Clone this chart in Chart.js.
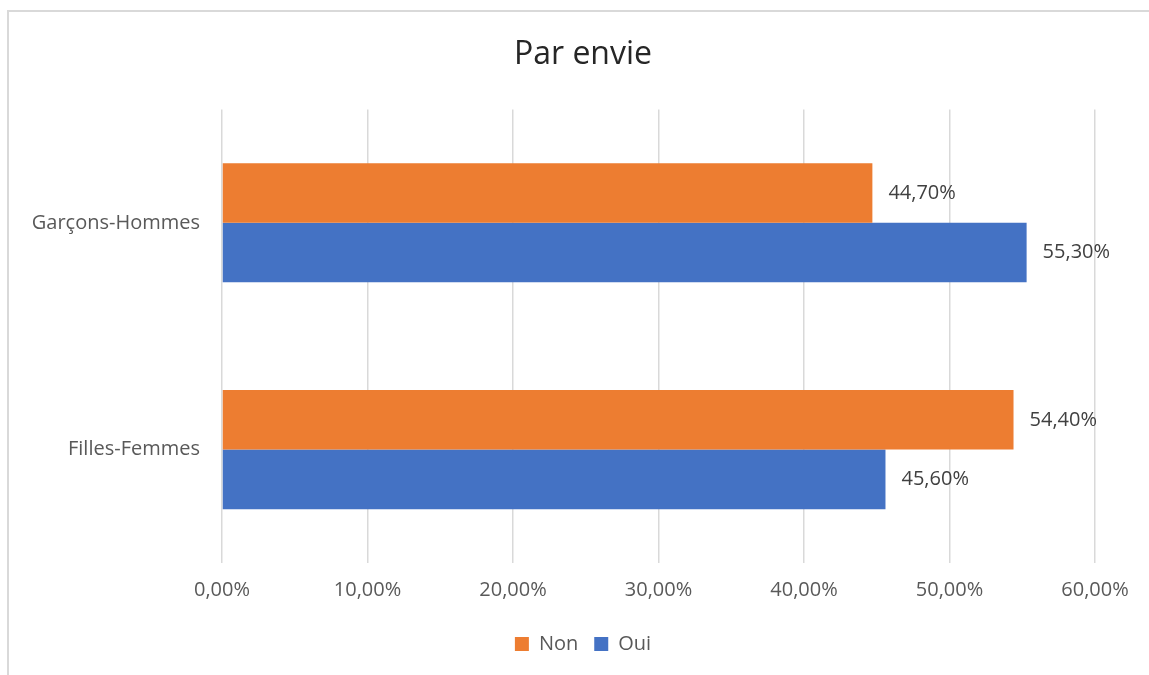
<!DOCTYPE html>
<html>
<head>
<meta charset="utf-8">
<script src="https://cdn.jsdelivr.net/npm/chart.js@4/dist/chart.umd.min.js"></script>
<style>
  html, body { margin: 0; padding: 0; background: #ffffff; }
  #wrap { position: relative; width: 1149px; height: 675px; overflow: hidden; }
  #frame { position: absolute; left: 7px; top: 10px; width: 1170px; height: 700px; border: 2px solid #d9d9d9; box-sizing: border-box; }
  #holder { position: absolute; left: 0; top: 0; width: 1149px; height: 675px; }
</style>
</head>
<body>
<div id="wrap">
  <div id="frame"></div>
  <div id="holder"><canvas id="c"></canvas></div>
</div>
<script>
const chartTitle = 'Par envie';
const categories = ['Garçons-Hommes', 'Filles-Femmes'];
const seriesNames = ['Non', 'Oui'];
const nonValues = [44.7, 54.4];
const ouiValues = [55.3, 45.6];
const tickValues = [0, 10, 20, 30, 40, 50, 60];

const FONT = "'Open Sans', 'Liberation Sans', sans-serif";
const fmt = v => Number(v).toFixed(2).replace('.', ',') + '%';

const valueLabels = {
  id: 'valueLabels',
  afterDatasetsDraw(chart) {
    const ctx = chart.ctx;
    ctx.save();
    ctx.font = '20px ' + FONT;
    ctx.fillStyle = '#404040';
    ctx.textAlign = 'left';
    ctx.textBaseline = 'middle';
    chart.data.datasets.forEach((ds, i) => {
      const meta = chart.getDatasetMeta(i);
      meta.data.forEach((bar, j) => {
        ctx.fillText(fmt(ds.data[j]), bar.x + 16, bar.y);
      });
    });
    ctx.restore();
  }
};

new Chart(document.getElementById('c'), {
  type: 'bar',
  data: {
    labels: categories,
    datasets: [
      { label: seriesNames[0], data: nonValues, backgroundColor: '#ED7D31', categoryPercentage: 0.525, barPercentage: 1.0 },
      { label: seriesNames[1], data: ouiValues, backgroundColor: '#4472C4', categoryPercentage: 0.525, barPercentage: 1.0 }
    ]
  },
  options: {
    indexAxis: 'y',
    responsive: true,
    maintainAspectRatio: false,
    animation: false,
    layout: { padding: { left: 71, right: 54, top: 0, bottom: 11 } },
    plugins: {
      title: {
        display: true,
        text: chartTitle,
        color: '#262626',
        font: { family: FONT, size: 32, weight: 'normal' },
        padding: { top: 36, bottom: 35 }
      },
      legend: {
        position: 'bottom',
        labels: {
          boxWidth: 14,
          boxHeight: 14,
          color: '#595959',
          font: { family: FONT, size: 20 },
          padding: 16
        }
      },
      tooltip: { enabled: false }
    },
    scales: {
      x: {
        min: 0,
        max: 60,
        afterBuildTicks(scale) { scale.ticks = tickValues.map(v => ({ value: v })); },
        afterFit(scale) { scale.height = 55; },
        grid: { color: '#d9d9d9', lineWidth: 1.5, drawTicks: false },
        border: { display: false },
        ticks: {
          color: '#595959',
          font: { family: FONT, size: 20 },
          padding: 15,
          callback: v => fmt(v)
        }
      },
      y: {
        afterFit(scale) {
          scale.width = 151;
          scale._computeLabelArea = function () { return undefined; };
        },
        grid: { display: false, drawTicks: false },
        border: { display: false },
        ticks: {
          color: '#595959',
          font: { family: FONT, size: 20 },
          padding: 22
        }
      }
    }
  },
  plugins: [valueLabels]
});
</script>
</body>
</html>
